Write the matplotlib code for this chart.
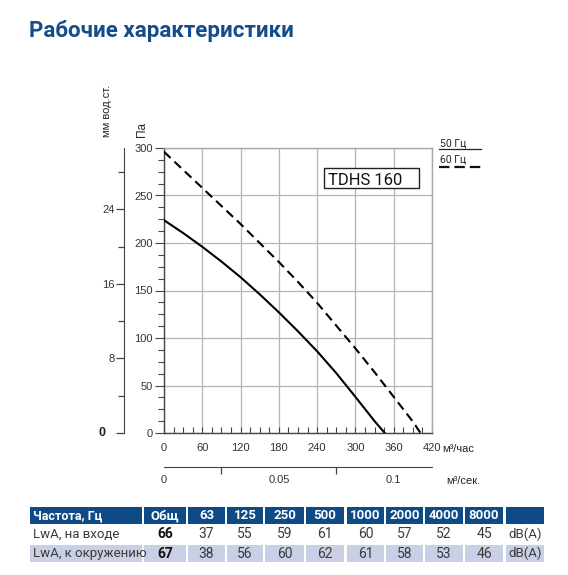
import matplotlib
matplotlib.use('Agg')
import matplotlib.pyplot as plt
from matplotlib import font_manager
from matplotlib.patches import Rectangle
from matplotlib.lines import Line2D
from matplotlib.ticker import MultipleLocator, FixedLocator

plt.rcParams['lines.scale_dashes'] = False

# ---------------- data ----------------
flow_50 = [0, 30, 60, 90, 120, 150, 180, 210, 240, 270, 300, 330, 346]
pres_50 = [224, 210.5, 196, 180.5, 164, 146, 127, 107, 86, 63, 38, 12.5, 0]
flow_60 = [0, 30, 60, 90, 120, 150, 180, 210, 240, 270, 300, 330, 360, 390, 402]
pres_60 = [296, 277, 258, 239, 220, 200, 180, 159, 137, 113, 89, 64, 38, 12, 0]

x_ticks_h = [0, 60, 120, 180, 240, 300, 360, 420]
y_ticks_pa = [0, 50, 100, 150, 200, 250, 300]
mm_ticks = [0, 8, 16, 24]
mm_minor = [4, 12, 20, 28]
sec_ticks = [0, 0.05, 0.1]
sec_minor = [0, 0.025, 0.075, 0.1]

model = "TDHS 160"
title = "Рабочие характеристики"
header = ["Частота, Гц", "Общ", "63", "125", "250", "500", "1000", "2000", "4000", "8000", ""]
row_in_label = "LwA, на входе"
row_out_label = "LwA, к окружению"
lwa_in = [66, 37, 55, 59, 61, 60, 57, 52, 45]
lwa_out = [67, 38, 56, 60, 62, 61, 58, 53, 46]
unit = "dB(A)"

# ---------------- fonts ----------------
names = {f.name for f in font_manager.fontManager.ttflist}
narrow = 'Liberation Sans Narrow' if 'Liberation Sans Narrow' in names else 'Roboto'
axfont = 'Liberation Sans'

W, H = 568, 575
fig = plt.figure(figsize=(W / 100, H / 100), dpi=100)
fig.patch.set_facecolor('white')

ax = fig.add_axes([164 / W, 1 - 433 / H, 268 / W, 285 / H])
ax.plot(flow_50, pres_50, color='black', lw=1.5, zorder=3, solid_joinstyle='round')
ax.plot(flow_60, pres_60, color='black', lw=1.5, ls=(0, (6.5, 3.8)), zorder=3)
ax.set_xlim(0, 420)
ax.set_ylim(0, 300)
ax.xaxis.set_major_locator(FixedLocator(x_ticks_h))
ax.yaxis.set_major_locator(FixedLocator(y_ticks_pa))
ax.xaxis.set_minor_locator(MultipleLocator(15))
ax.yaxis.set_minor_locator(MultipleLocator(12.5))
ax.grid(True, which='major', color='#b4b4b4', lw=0.9, zorder=0)
ax.tick_params(axis='x', which='both', direction='in', length=4.5, width=0.8,
               color='#444444', labelsize=8, labelcolor='#333333', pad=7)
ax.tick_params(axis='y', which='major', direction='out', length=6.5, width=0.8,
               color='#444444', labelsize=8, labelcolor='#333333', pad=1.5)
ax.tick_params(axis='y', which='minor', direction='out', length=4.5, width=0.8, color='#444444')
for lab in ax.get_xticklabels() + ax.get_yticklabels():
    lab.set_family(axfont)
for s in ['left', 'bottom']:
    ax.spines[s].set_color('#444444')
    ax.spines[s].set_linewidth(1.0)
for s in ['top', 'right']:
    ax.spines[s].set_color('#a8a8a8')
    ax.spines[s].set_linewidth(1.0)

# secondary y axis: mm water column
sy = ax.secondary_yaxis(-0.149, functions=(lambda p: p / 9.80665, lambda m: m * 9.80665))
sy.yaxis.set_major_locator(FixedLocator(mm_ticks))
sy.yaxis.set_minor_locator(FixedLocator(mm_minor))
sy.set_yticklabels([''] + [str(v) for v in mm_ticks[1:]])
sy.tick_params(which='major', direction='out', length=6, width=0.9, color='#444444',
               labelsize=8, labelcolor='#333333', pad=0.5)
sy.tick_params(which='minor', direction='out', length=4.5, width=0.9, color='#444444')
sy.spines['left'].set_color('#444444')
for lab in sy.get_yticklabels():
    lab.set_family(axfont)

# secondary x axis: m3/s
sx = ax.secondary_xaxis(-0.119, functions=(lambda q: q / 3600, lambda s: s * 3600))
sx.xaxis.set_major_locator(FixedLocator(sec_ticks))
sx.xaxis.set_minor_locator(FixedLocator(sec_minor))
sx.set_xticklabels([str(v) if v else '0' for v in sec_ticks])
sx.tick_params(which='major', direction='out', length=0, labelsize=8,
               labelcolor='#333333', pad=6)
sx.tick_params(which='minor', direction='out', length=5, width=0.9, color='#444444')
sx.spines['bottom'].set_color('#444444')
for lab in sx.get_xticklabels():
    lab.set_family(axfont)

# ---------------- overlay in pixel coordinates ----------------
ov = fig.add_axes([0, 0, 1, 1], zorder=5)
ov.set_xlim(0, W)
ov.set_ylim(H, 0)
ov.axis('off')
ov.patch.set_alpha(0)

ov.text(29, 37.5, title, fontsize=16, fontweight='bold', color='#134d8b',
        family='Roboto', va='baseline', ha='left')

ov.text(107, 137, "мм вод.ст.", rotation=90, fontsize=8, color='#222222',
        family=axfont, ha='center', va='bottom')
ov.text(141.5, 137, "Па", rotation=90, fontsize=8.5, color='#222222',
        family=axfont, ha='center', va='bottom')
ov.text(102, 433, "0", fontsize=9, fontweight='bold', color='#222222',
        family=axfont, ha='center', va='center')
ov.text(442, 449, "м³/час", fontsize=8, color='#222222', family=axfont,
        ha='left', va='center')
ov.text(446, 481, "м³/сек.", fontsize=8, color='#222222', family=axfont,
        ha='left', va='center')

# model box
ov.add_patch(Rectangle((324, 168), 95, 20, facecolor='white', edgecolor='#222222', lw=1.0))
ov.text(328, 185, model, fontsize=12, color='#111111', family=narrow,
        ha='left', va='baseline')

# legend
ov.text(440, 146, "50 Гц", fontsize=7.5, color='#222222', family=narrow,
        ha='left', va='baseline')
ov.add_line(Line2D([439, 481], [149.3, 149.3], color='#222222', lw=0.9))
ov.text(440, 163, "60 Гц", fontsize=7.5, color='#222222', family=narrow,
        ha='left', va='baseline')
ov.add_line(Line2D([439, 481], [166.7, 166.7], color='#111111', lw=1.6,
                   ls=(0, (7.5, 3.6))))

# ---------------- table ----------------
col_edges = [(30, 142), (144, 186), (188, 225), (227, 263), (265, 304), (306, 344),
             (347, 384), (386, 423), (425, 463), (465, 503), (506, 544)]
hdr_y = (507, 524)
r1_y = (525, 543)
r2_y = (545, 562)
hdr_bg = '#0d4a86'
r2_bg = '#c9d0e6'
txt = '#3a3a3a'
fs = 9.5

for i, (x0, x1) in enumerate(col_edges):
    ov.add_patch(Rectangle((x0, hdr_y[0]), x1 - x0, hdr_y[1] - hdr_y[0],
                           facecolor=hdr_bg, edgecolor='none'))
    ov.add_patch(Rectangle((x0, r2_y[0]), x1 - x0, r2_y[1] - r2_y[0],
                           facecolor=r2_bg, edgecolor='none'))
    yc = (hdr_y[0] + hdr_y[1]) / 2
    if i == 0:
        ov.text(x0 + 3, yc, header[i], fontsize=9, fontweight='bold', color='white',
                family=narrow, ha='left', va='center')
    else:
        ov.text((x0 + x1) / 2, yc, header[i], fontsize=9.5, fontweight='bold', color='white',
                family=narrow, ha='center', va='center')

y1 = (r1_y[0] + r1_y[1]) / 2
y2 = (r2_y[0] + r2_y[1]) / 2
ov.text(33, y1, row_in_label, fontsize=fs, color=txt, family=narrow, ha='left', va='center')
ov.text(33, y2, row_out_label, fontsize=fs, color=txt, family=narrow, ha='left', va='center')
for j in range(len(lwa_in)):
    x0, x1 = col_edges[j + 1]
    xc = (x0 + x1) / 2
    w = 'bold' if j == 0 else 'normal'
    c = '#111111' if j == 0 else txt
    ov.text(xc, y1, str(lwa_in[j]), fontsize=fs + 0.5, fontweight=w, color=c,
            family=narrow, ha='center', va='center')
    ov.text(xc, y2, str(lwa_out[j]), fontsize=fs + 0.5, fontweight=w, color=c,
            family=narrow, ha='center', va='center')
ux0, ux1 = col_edges[-1]
ov.text((ux0 + ux1) / 2, y1, unit, fontsize=fs, color=txt, family=narrow, ha='center', va='center')
ov.text((ux0 + ux1) / 2, y2, unit, fontsize=fs, color=txt, family=narrow, ha='center', va='center')

fig.savefig('out.png', dpi=100, facecolor='white')
